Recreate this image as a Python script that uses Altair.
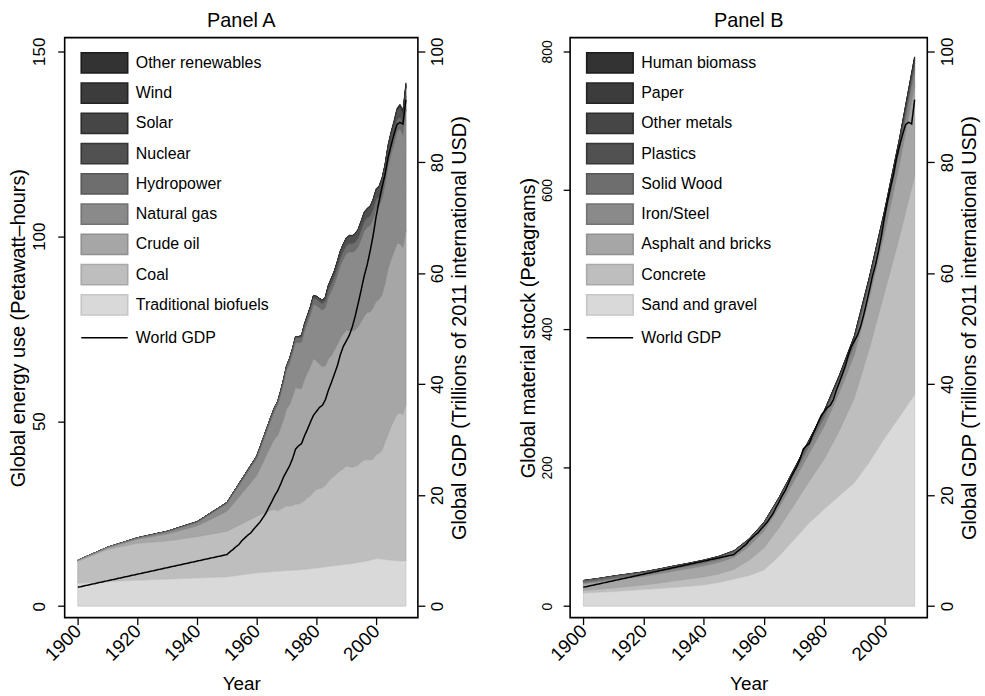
import altair as alt
import pandas as pd

# ---------------- Panel A data (Petawatt-hours) ----------------
energy_years = [1900, 1910, 1920, 1930, 1940, 1950, 1960,
                1965, 1966, 1967, 1968, 1969, 1970, 1971, 1972, 1973, 1974,
                1975, 1976, 1977, 1978, 1979, 1980, 1981, 1982, 1983, 1984,
                1985, 1986, 1987, 1988, 1989, 1990, 1991, 1992, 1993, 1994,
                1995, 1996, 1997, 1998, 1999, 2000, 2001, 2002, 2003, 2004,
                2005, 2006, 2007, 2008, 2009, 2010]

traditional_biofuels = [6.2, 6.6, 7.0, 7.3, 7.6, 7.9, 9.0,
                        9.3, 9.35, 9.4, 9.5, 9.55, 9.6, 9.65, 9.7, 9.75, 9.8,
                        9.85, 9.9, 10.0, 10.1, 10.2, 10.3, 10.4, 10.5, 10.6, 10.7,
                        10.8, 10.9, 11.0, 11.1, 11.2, 11.3, 11.4, 11.5, 11.6, 11.8,
                        11.9, 12.1, 12.2, 12.4, 12.6, 12.8, 12.8, 12.7, 12.6, 12.5,
                        12.4, 12.3, 12.3, 12.2, 12.2, 12.2]
coal = [5.9, 8.7, 10.0, 10.3, 11.2, 12.3, 15.3,
        16.7, 16.8, 16.3, 16.7, 17.1, 17.5, 17.4, 17.5, 17.8, 17.8,
        18.1, 18.6, 19.3, 19.7, 20.6, 21.3, 21.4, 21.5, 22.0, 23.0,
        23.8, 24.2, 24.9, 25.5, 25.9, 26.6, 26.3, 26.0, 26.2, 26.3,
        27.0, 27.4, 27.4, 27.1, 27.2, 28.2, 28.5, 29.4, 31.8, 33.9,
        36.1, 37.9, 39.6, 40.0, 39.6, 42.4]
crude_oil = [0.2, 0.4, 1.1, 1.9, 2.9, 5.4, 11.0,
             17.8, 19.1, 20.4, 22.0, 23.8, 26.2, 27.4, 29.4, 31.6, 31.2,
             30.9, 32.8, 33.8, 35.0, 36.1, 34.7, 33.6, 32.7, 32.4, 33.1,
             33.1, 34.1, 34.8, 35.8, 36.4, 36.6, 36.8, 36.9, 36.8, 37.4,
             38.0, 38.8, 39.8, 40.0, 40.8, 41.4, 41.6, 42.1, 42.8, 44.7,
             45.2, 45.6, 46.1, 45.8, 45.1, 46.9]
natural_gas = [0.1, 0.2, 0.3, 0.6, 0.9, 2.1, 4.6,
               7.0, 7.6, 8.2, 8.9, 9.8, 10.5, 11.2, 11.7, 12.2, 12.4,
               12.5, 13.1, 13.5, 14.0, 14.7, 15.0, 15.2, 15.3, 15.7, 16.7,
               17.5, 17.8, 18.7, 19.6, 20.3, 20.8, 21.3, 21.3, 21.5, 21.7,
               22.3, 23.1, 23.0, 23.4, 24.1, 24.9, 25.2, 26.0, 26.7, 27.6,
               28.4, 29.1, 30.2, 31.1, 30.5, 32.9]
hydropower = [0.02, 0.04, 0.1, 0.15, 0.25, 0.35, 0.7,
              0.92, 0.97, 1.0, 1.04, 1.1, 1.15, 1.2, 1.25, 1.3, 1.4,
              1.43, 1.46, 1.5, 1.6, 1.67, 1.72, 1.75, 1.8, 1.88, 1.94,
              1.98, 2.0, 2.04, 2.1, 2.12, 2.16, 2.22, 2.24, 2.34, 2.37,
              2.5, 2.54, 2.58, 2.6, 2.62, 2.68, 2.6, 2.66, 2.66, 2.83,
              2.93, 3.03, 3.1, 3.23, 3.25, 3.43]
nuclear = [0, 0, 0, 0, 0, 0, 0.02,
           0.03, 0.03, 0.04, 0.05, 0.06, 0.08, 0.11, 0.15, 0.2, 0.24,
           0.38, 0.43, 0.52, 0.6, 0.65, 0.71, 0.82, 0.9, 1.03, 1.23,
           1.43, 1.55, 1.67, 1.83, 1.9, 2.0, 2.09, 2.1, 2.18, 2.23,
           2.33, 2.4, 2.4, 2.44, 2.52, 2.58, 2.65, 2.7, 2.65, 2.77,
           2.77, 2.8, 2.72, 2.73, 2.7, 2.77]
solar = [0, 0, 0, 0, 0, 0, 0,
         0, 0, 0, 0, 0, 0, 0, 0, 0, 0,
         0, 0, 0, 0, 0, 0, 0, 0, 0, 0,
         0, 0, 0, 0, 0, 0, 0, 0, 0, 0,
         0, 0, 0, 0, 0, 0.001, 0.001, 0.002, 0.002, 0.003,
         0.004, 0.006, 0.008, 0.012, 0.02, 0.032]
wind = [0, 0, 0, 0, 0, 0, 0,
        0, 0, 0, 0, 0, 0, 0, 0, 0, 0,
        0, 0, 0, 0, 0, 0, 0, 0, 0, 0,
        0.001, 0.001, 0.002, 0.002, 0.003, 0.004, 0.004, 0.005, 0.006, 0.007,
        0.008, 0.010, 0.012, 0.016, 0.021, 0.031, 0.038, 0.052, 0.063, 0.085,
        0.104, 0.133, 0.171, 0.22, 0.276, 0.342]
other_renewables = [0, 0, 0, 0, 0, 0, 0,
                    0.03, 0.03, 0.03, 0.04, 0.04, 0.04, 0.04, 0.05, 0.05, 0.05,
                    0.05, 0.06, 0.06, 0.06, 0.06, 0.07, 0.07, 0.08, 0.09, 0.1,
                    0.11, 0.12, 0.13, 0.14, 0.15, 0.16, 0.17, 0.18, 0.19, 0.2,
                    0.21, 0.22, 0.23, 0.24, 0.25, 0.26, 0.27, 0.28, 0.3, 0.32,
                    0.34, 0.36, 0.39, 0.42, 0.45, 0.5]

# ---------------- World GDP (trillions of 2011 int. USD) ----------------
gdp_years = [1900,
             1950, 1951, 1952, 1953, 1954, 1955, 1956, 1957, 1958, 1959,
             1960, 1961, 1962, 1963, 1964, 1965, 1966, 1967, 1968, 1969,
             1970, 1971, 1972, 1973, 1974, 1975, 1976, 1977, 1978, 1979,
             1980, 1981, 1982, 1983, 1984, 1985, 1986, 1987, 1988, 1989,
             1990, 1991, 1992, 1993, 1994, 1995, 1996, 1997, 1998, 1999,
             2000, 2001, 2002, 2003, 2004, 2005, 2006, 2007, 2008, 2009, 2010]
world_gdp = [3.4,
             9.3, 9.8, 10.2, 10.7, 11.1, 11.8, 12.3, 12.8, 13.2, 13.9,
             14.5, 15.1, 15.9, 16.7, 17.8, 18.8, 19.9, 20.8, 22.0, 23.3,
             24.3, 25.3, 26.6, 28.3, 28.9, 29.3, 30.7, 31.9, 33.2, 34.4,
             35.1, 35.8, 36.2, 37.2, 38.9, 40.3, 41.8, 43.3, 45.3, 46.8,
             47.8, 48.8, 50.3, 52.3, 54.6, 57.0, 59.5, 61.5, 64.0, 66.8,
             70.2, 73.0, 75.5, 77.8, 80.8, 83.0, 85.0, 86.8, 87.2, 86.9, 91.3]

# ---------------- Panel B data (Petagrams) ----------------
material_years = [1900, 1905, 1910, 1915, 1920, 1925, 1930, 1935, 1940, 1945,
                  1950, 1955, 1960, 1965, 1970, 1975, 1980, 1985, 1990, 1995,
                  2000, 2005, 2010]
sand_and_gravel = [19, 20, 21, 22.5, 24, 25.5, 27, 28.5, 30.5, 34,
                   39, 44, 52, 72, 96, 120, 140, 159, 178, 208,
                   242, 273, 305]
concrete = [3.5, 4.2, 5.2, 5.8, 6.4, 7.6, 9.2, 10.5, 11.6, 12.4,
            14.0, 22, 32, 41, 50, 60, 72, 94, 122, 164,
            210, 260, 315]
asphalt_and_bricks = [9.7, 10.5, 11.5, 12.0, 12.4, 13.3, 14.2, 15.0, 15.8, 16.5,
                      17.3, 20, 24.4, 29.3, 34.7, 40, 47.3, 54.8, 62.3, 72.8,
                      85.1, 104.8, 129.5]
iron_steel = [1.5, 1.8, 2.1, 2.4, 2.7, 3.0, 3.3, 3.6, 4.0, 4.3,
              4.7, 5.5, 6.5, 7.8, 9.3, 10.8, 12.3, 13.5, 14.7, 15.8,
              17.0, 19.5, 23]
solid_wood = [3.0, 3.1, 3.2, 3.3, 3.4, 3.5, 3.6, 3.7, 3.8, 3.9,
              4.0, 4.3, 4.7, 5.1, 5.6, 6.1, 6.6, 7.1, 7.6, 8.1,
              8.6, 9.2, 9.8]
plastics = [0, 0, 0, 0, 0, 0, 0, 0, 0, 0,
            0.02, 0.06, 0.15, 0.35, 0.7, 1.1, 1.6, 2.1, 2.7, 3.3,
            4.0, 4.8, 5.6]
other_metals = [0.15, 0.18, 0.21, 0.24, 0.27, 0.3, 0.34, 0.38, 0.42, 0.47,
                0.52, 0.6, 0.7, 0.82, 0.95, 1.1, 1.25, 1.4, 1.55, 1.7,
                1.9, 2.2, 2.5]
paper = [0.1, 0.12, 0.14, 0.16, 0.18, 0.2, 0.22, 0.24, 0.26, 0.28,
         0.3, 0.36, 0.42, 0.5, 0.58, 0.66, 0.74, 0.82, 0.9, 1.0,
         1.1, 1.2, 1.3]
human_biomass = [0.08, 0.085, 0.09, 0.09, 0.095, 0.1, 0.105, 0.11, 0.115, 0.12,
                 0.125, 0.135, 0.15, 0.165, 0.18, 0.2, 0.22, 0.24, 0.26, 0.28,
                 0.3, 0.32, 0.34]

# legend order (top to bottom); stacking is the reverse
energy_names = ["Other renewables", "Wind", "Solar", "Nuclear", "Hydropower",
                "Natural gas", "Crude oil", "Coal", "Traditional biofuels"]
energy_series = [other_renewables, wind, solar, nuclear, hydropower,
                 natural_gas, crude_oil, coal, traditional_biofuels]
material_names = ["Human biomass", "Paper", "Other metals", "Plastics", "Solid Wood",
                  "Iron/Steel", "Asphalt and bricks", "Concrete", "Sand and gravel"]
material_series = [human_biomass, paper, other_metals, plastics, solid_wood,
                   iron_steel, asphalt_and_bricks, concrete, sand_and_gravel]

fill_colors = ["#333333", "#3c3c3c", "#464646", "#515151", "#6e6e6e",
               "#8a8a8a", "#a6a6a6", "#bebebe", "#d9d9d9"]
edge_colors = ["#1c1c1c", "#242424", "#2c2c2c", "#363636", "#575757",
               "#737373", "#909090", "#a9a9a9", "#c6c6c6"]

FONT = "Liberation Sans"
# wide rectangle / line drawn outside the unit box so legend rows stay compact
RECT = "M-2.3,-1L2.3,-1L2.3,1L-2.3,1Z"
HLINE = "M-2.3,0L2.3,0"
SYM_SIZE = 412
XLAB = 19


def long_table(years, names, series):
    rows = []
    n = len(names)
    for i, (name, vals) in enumerate(zip(names, series)):
        for y, v in zip(years, vals):
            rows.append({"year": y, "value": v, "source": name, "stack": n - i})
    return pd.DataFrame(rows)


def make_xaxis():
    return alt.Axis(values=[1900, 1920, 1940, 1960, 1980, 2000], format="d",
                    labelAngle=-45, labelAlign="right", labelBaseline="middle",
                    labelFontSize=XLAB, labelPadding=3, title="Year", titlePadding=10,
                    titleFontSize=19)


def panel(df, names, title, ytitle, ydom, yvals, xdom, width, ylab_size, gdp_scale):
    gdp_df = pd.DataFrame({"year": gdp_years, "gdp": world_gdp, "series": "World GDP"})
    xscale = alt.Scale(domain=xdom, nice=False, zero=False)
    legend_area = alt.Legend(title=None, orient="none", legendX=29, legendY=14.4, padding=0,
                             symbolType=RECT, symbolSize=SYM_SIZE, symbolStrokeWidth=1.6,
                             symbolOpacity=1, labelFontSize=16, labelOffset=20.5,
                             rowPadding=2.4, labelFont=FONT, labelColor="black")
    area = alt.Chart(df).mark_area(interpolate="linear", strokeWidth=0.8).encode(
        x=alt.X("year:Q", scale=xscale, axis=make_xaxis()),
        y=alt.Y("value:Q", stack="zero",
                scale=alt.Scale(domain=ydom, nice=False, zero=False),
                axis=alt.Axis(values=yvals, title=ytitle, labelAngle=270, labelAlign="center",
                              labelBaseline="bottom", labelPadding=9, labelFontSize=ylab_size,
                              titlePadding=2, titleFontSize=20)),
        fill=alt.Fill("source:N", scale=alt.Scale(domain=names, range=fill_colors),
                      legend=legend_area),
        stroke=alt.Stroke("source:N", scale=alt.Scale(domain=names, range=edge_colors),
                          legend=legend_area),
        order=alt.Order("stack:Q", sort="ascending"),
    )
    line = alt.Chart(gdp_df).mark_line(color="black", strokeWidth=1.5).encode(
        x=alt.X("year:Q", scale=xscale, axis=make_xaxis()),
        y=alt.Y("gdp:Q", scale=alt.Scale(domain=gdp_scale, nice=False, zero=False),
                axis=alt.Axis(orient="right", values=[0, 20, 40, 60, 80, 100],
                              title="Global GDP (Trillions of 2011 international USD)",
                              labelAngle=270, labelAlign="center", labelBaseline="top",
                              labelPadding=5, labelFontSize=17, titleAngle=270,
                              titleBaseline="top", titlePadding=4, titleFontSize=20)),
        strokeDash=alt.StrokeDash("series:N",
                                  scale=alt.Scale(domain=["World GDP"], range=[[1, 0]]),
                                  legend=alt.Legend(title=None, orient="none", legendX=29,
                                                    legendY=290.6, padding=0,
                                                    symbolType=HLINE, symbolSize=SYM_SIZE,
                                                    symbolStrokeWidth=1.5,
                                                    symbolStrokeColor="black",
                                                    symbolFillColor="transparent",
                                                    labelFontSize=16, labelOffset=20.5,
                                                    labelFont=FONT, labelColor="black")),
    )
    return alt.layer(area, line).resolve_scale(y="independent").properties(
        width=width, height=583,
        title=alt.TitleParams(title, fontSize=20, fontWeight="normal", font=FONT,
                              anchor="middle", color="black", offset=6),
    )


energy_df = long_table(energy_years, energy_names, energy_series)
material_df = long_table(material_years, material_names, material_series)

pA = panel(energy_df, energy_names, "Panel A", "Global energy use (Petawatt–hours)",
           [-3.1, 153.7], [0, 50, 100, 150], [1895.6, 2014.0], 355, 17, [-2.07, 102.47])
pB = panel(material_df, material_names, "Panel B", "Global material stock (Petagrams)",
           [-16.6, 819.8], [0, 200, 400, 600, 800], [1895.6, 2014.2], 359, 14, [-2.07, 102.47])

chart = alt.hconcat(pA, pB, spacing=47).resolve_scale(
    fill="independent", stroke="independent", strokeDash="independent"
).configure(
    font=FONT, padding={"left": 8, "top": 8, "right": 5, "bottom": 5}
).configure_view(
    stroke="black", strokeWidth=1.6
).configure_axis(
    grid=False, domain=False, tickColor="black", tickWidth=1.3, tickSize=7,
    labelColor="black", titleColor="black", labelFontSize=17, titleFontSize=19,
    titleFontWeight="normal", labelFont=FONT, titleFont=FONT,
).configure_axisX(
    labelFontSize=XLAB
).configure_legend(
    symbolOpacity=1
)

chart.save("out.html", embed_options={"renderer": "svg", "actions": False})
